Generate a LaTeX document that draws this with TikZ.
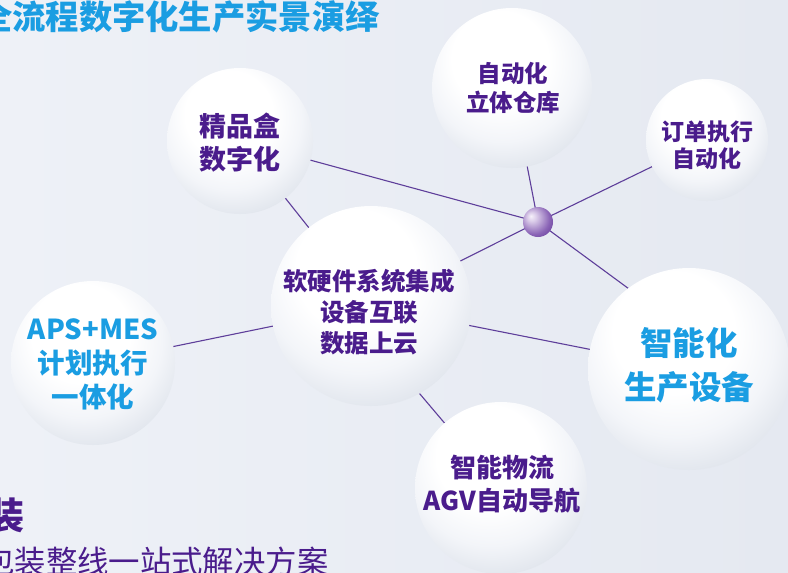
\documentclass[tikz,border=0pt]{standalone}
\usepackage{fontspec}
\newfontfamily\cjk{Noto Sans CJK SC}
\usetikzlibrary{calc}
\definecolor{bgL}{HTML}{EEF1F7}
\definecolor{bgR}{HTML}{E5E9F1}
\definecolor{ptxt}{HTML}{4A1C8C}
\definecolor{btxt}{HTML}{1A9DE2}
\definecolor{lnc}{HTML}{5E3E9A}
\definecolor{sA}{HTML}{F3F5F9}
\definecolor{sB}{HTML}{DEE3EB}
\definecolor{sC}{HTML}{BCC6D4}
\definecolor{sD}{HTML}{9AA8BC}
\definecolor{sE}{HTML}{8494AC}
\definecolor{hA}{HTML}{F6F1FA}
\definecolor{hB}{HTML}{D9CAE8}
\definecolor{hC}{HTML}{8A64B6}
\definecolor{hD}{HTML}{55268C}
\definecolor{hE}{HTML}{40166F}
\pgfdeclareradialshading{sph}{\pgfpoint{-5bp}{12bp}}{color(0bp)=(white); color(15bp)=(white); color(24bp)=(sA); color(33bp)=(sB); color(42bp)=(sC); color(50bp)=(sD); color(60bp)=(sE)}
\pgfdeclareradialshading{hubsh}{\pgfpoint{-12bp}{10bp}}{color(0bp)=(hA); color(8bp)=(hB); color(26bp)=(hC); color(44bp)=(hD); color(62bp)=(hE)}
\pgfdeclarelayer{bg}
\pgfdeclarelayer{lines}
\pgfsetlayers{bg,lines,main}
\tikzset{
  ball/.style={circle, shading=sph, inner sep=0pt, outer sep=0pt, minimum size=#1},
  hubball/.style={circle, shading=hubsh, inner sep=0pt, outer sep=0pt, minimum size=30pt},
  ptext/.style={text=ptxt, align=center, inner sep=0pt},
  btext/.style={text=btxt, align=center, inner sep=0pt},
  conn/.style={draw=lnc, line width=1.1pt}
}
\begin{document}
\begin{tikzpicture}[x=1pt,y=-1pt]
\useasboundingbox (0,0) rectangle (788,573);
\begin{pgfonlayer}{bg}
\shade[left color=bgL, right color=bgR] (0,0) rectangle (788,573);
\end{pgfonlayer}
\clip (0,0) rectangle (788,573);

% spheres
\node[ball=146pt] (box) at (240,141) {};
\node[ball=160pt] (wh) at (512,88) {};
\node[ball=122pt] (order) at (707,140) {};
\node[ball=200pt] (core) at (371,306) {};
\node[ball=164pt] (aps) at (93,363) {};
\node[ball=202pt] (smart) at (689,369) {};
\node[ball=172pt] (agv) at (501,488) {};
\node[hubball] (hub) at (538,222) {};

% texts in spheres
\node[ptext, font=\cjk\bfseries\fontsize{27}{33}\selectfont] (boxt) at (240,143) {精品盒\\数字化};
\node[ptext, font=\cjk\bfseries\fontsize{23.5}{29}\selectfont] (wht) at (513,88) {自动化\\立体仓库};
\node[ptext, font=\cjk\bfseries\fontsize{23}{27}\selectfont] (ordert) at (707,145) {订单执行\\自动化};
\node[ptext, font=\cjk\bfseries\fontsize{24.5}{31}\selectfont] (coret) at (369,312) {软硬件系统集成\\设备互联\\数据上云};
\node[btext, font=\cjk\bfseries\fontsize{27.5}{34}\selectfont] (apst) at (93,364) {APS+MES\\计划执行\\一体化};
\node[btext, font=\cjk\bfseries\fontsize{32.5}{44}\selectfont] (smartt) at (689,365) {智能化\\生产设备};
\node[ptext, font=\cjk\bfseries\fontsize{26}{33}\selectfont] (agvt) at (502,484) {智能物流\\AGV自动导航};

% page texts
\node[anchor=west, inner sep=0pt, text=btxt, font=\cjk\bfseries\fontsize{33.3}{36}\selectfont] (title) at (-21,17) {全流程数字化生产实景演绎};
\node[anchor=east, inner sep=0pt, text=ptxt, font=\cjk\bfseries\fontsize{37}{40}\selectfont] (head) at (25,516) {装};
\node[anchor=west, inner sep=0pt, text=ptxt, font=\cjk\fontsize{31.4}{34}\selectfont] (sub) at (-17,562) {包装整线一站式解决方案};

% connectors
\begin{pgfonlayer}{lines}
\draw[conn] (hub.center) -- (box.center);
\draw[conn] (hub.center) -- (wh.center);
\draw[conn] (hub.center) -- (order.center);
\draw[conn] (hub.center) -- (core.center);
\draw[conn] (hub.center) -- (smart.127);
\draw[conn] (core.center) -- (box.center);
\draw[conn] (core.center) -- (aps.center);
\draw[conn] (core.center) -- (smart.center);
\draw[conn] (core.-61) -- (agv.131);
\end{pgfonlayer}
\end{tikzpicture}
\end{document}
